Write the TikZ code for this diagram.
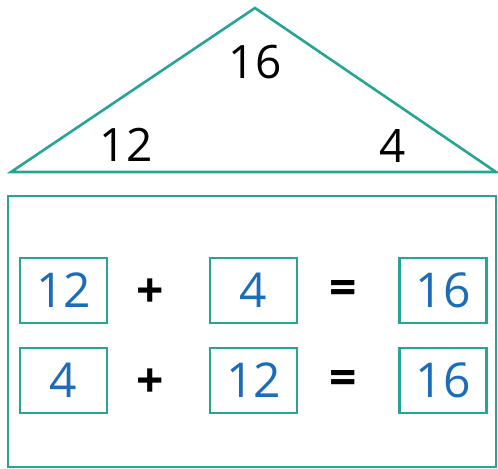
\documentclass[tikz,border=0pt]{standalone}
\usepackage{fontspec}
\setmainfont{Open Sans}
\usepackage{xcolor}
\usepackage{tikz}
\definecolor{housegreen}{RGB}{38,164,150}
\definecolor{numblue}{RGB}{28,108,186}

\begin{document}
\begin{tikzpicture}[x=0.5pt,y=-0.5pt,
    edge/.style={housegreen,line width=1.3pt},
    numbox/.style={draw=housegreen,line width=1.2pt,minimum width=43.5pt,minimum height=32.5pt,
      inner sep=0pt,font=\fontsize{24}{28}\selectfont,text=numblue},
    roofnum/.style={font=\fontsize{23}{27}\selectfont},
    sign/.style={font=\bfseries\fontsize{24}{28}\selectfont}]
  \useasboundingbox (0,0) rectangle (498,469);
  % roof
  \coordinate (apex) at (255,8);
  \coordinate (baseL) at (11,172);
  \coordinate (baseR) at (496,172);
  \draw[edge,line join=miter] (apex)--(baseL)--(baseR)--cycle;
  \node[roofnum] (top) at (255,62) {16};
  \node[roofnum] (left) at (126,145) {12};
  \node[roofnum] (right) at (393,146) {4};

  % house body
  \coordinate (wallNW) at (8,196);
  \coordinate (wallSE) at (496,467);
  \draw[edge] (wallNW) rectangle (wallSE);

  % first sum
  \node[numbox] (a1) at (63.5,290.5) {12};
  \node[sign] (p1) at (150,293) {+};
  \node[numbox] (b1) at (253.5,290.5) {4};
  \node[sign] (e1) at (343,293) {=};
  \node[numbox] (c1) at (443,290.5) {16};

  % second sum
  \node[numbox] (a2) at (63.5,380.5) {4};
  \node[sign] (p2) at (150,383) {+};
  \node[numbox] (b2) at (253.5,380.5) {12};
  \node[sign] (e2) at (343,383) {=};
  \node[numbox] (c2) at (443,380.5) {16};
\end{tikzpicture}
\end{document}
